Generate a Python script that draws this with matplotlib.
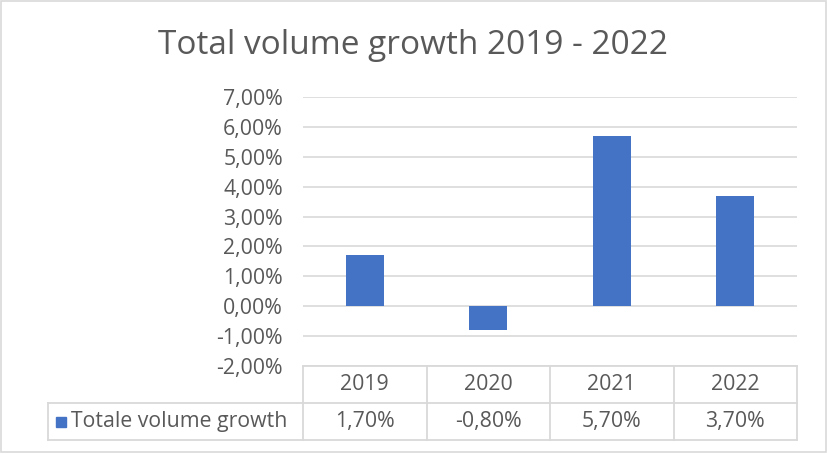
import matplotlib
matplotlib.use("Agg")
import matplotlib.pyplot as plt
from matplotlib.lines import Line2D
from matplotlib.patches import Rectangle
import matplotlib.transforms as mtransforms

years = ["2019", "2020", "2021", "2022"]
growth = [1.70, -0.80, 5.70, 3.70]
series_name = "Totale volume growth"
title = "Total volume growth 2019 - 2022"
yticks = [-2, -1, 0, 1, 2, 3, 4, 5, 6, 7]

W, H = 827, 454
BAR = "#4472C4"
GRID = "#D9D9D9"
TXT = "#595959"
plt.rcParams["font.family"] = ["Open Sans", "DejaVu Sans"]
FS = 15.3


def pct(v):
    return f"{v:.2f}%".replace(".", ",")


fig = plt.figure(figsize=(W / 100, H / 100), dpi=100)
fig.patch.set_facecolor("white")
tf = fig.transFigure


# pixel -> figure fraction helpers
def fx(px):
    return px / W


def fy(py):
    return 1 - py / H


# outer chart border
fig.add_artist(Rectangle((fx(1), fy(452)), fx(825), 451 / H, transform=tf,
                         fill=False, edgecolor=GRID, lw=1.2))

# plot area
left, right, top, bottom = 303, 797, 97, 366
ax = fig.add_axes([fx(left), fy(bottom), fx(right - left), (bottom - top) / H])
x = list(range(len(years)))
ax.bar(x, growth, width=0.31, color=BAR, zorder=3)
ax.set_xlim(-0.5, len(years) - 0.5)
ax.set_ylim(yticks[0], yticks[-1])
ax.set_yticks(yticks)
ax.set_yticklabels([pct(t) for t in yticks], color=TXT, fontsize=FS)
ax.tick_params(axis="y", length=0, pad=14.4)
ax.set_xticks([])
ax.grid(axis="y", color=GRID, lw=1.2, zorder=0)
for s in ax.spines.values():
    s.set_visible(False)

fig.text(fx(413), fy(46), title, ha="center", va="center", fontsize=24, color=TXT)

# data table below the plot area
row1, row2, row3 = 366, 403, 440
leg_left = 48
blend = mtransforms.blended_transform_factory(ax.transData, tf)
for ce in [i - 0.5 for i in range(len(years) + 1)]:
    fig.add_artist(Line2D([ce, ce], [fy(row1), fy(row3)], transform=blend, color=GRID, lw=1.3))
for ry in (row2, row3):
    fig.add_artist(Line2D([fx(leg_left), fx(right)], [fy(ry), fy(ry)], transform=tf, color=GRID, lw=1.3))
fig.add_artist(Line2D([fx(left), fx(right)], [fy(row1), fy(row1)], transform=tf, color=GRID, lw=1.3))
fig.add_artist(Line2D([fx(leg_left), fx(leg_left)], [fy(row2), fy(row3)], transform=tf, color=GRID, lw=1.3))

for i, (yr, v) in enumerate(zip(years, growth)):
    fig.text(i, fy((row1 + row2) / 2), yr, ha="center", va="center", fontsize=FS,
             color=TXT, transform=blend)
    fig.text(i, fy((row2 + row3) / 2), pct(v), ha="center", va="center", fontsize=FS,
             color=TXT, transform=blend)

# legend key inside the table
fig.add_artist(Rectangle((fx(56), fy(427)), fx(10), 10 / H, transform=tf, color=BAR))
fig.text(fx(71), fy((row2 + row3) / 2), series_name, ha="left", va="center", fontsize=FS, color=TXT)

fig.savefig("out.png", dpi=100, facecolor="white")
